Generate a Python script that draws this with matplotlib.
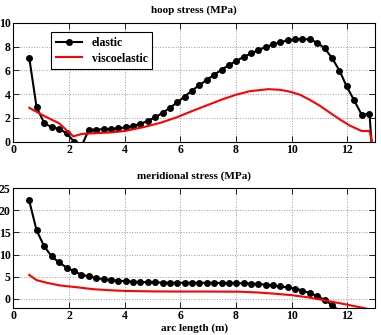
import matplotlib
matplotlib.use('Agg')
import matplotlib.pyplot as plt

# datos leidos de la figura
# tension circunferencial (hoop), caso elastico
hoop_el_x = [0.57, 0.83, 1.10, 1.37, 1.64, 1.91, 2.18, 2.44, 2.71, 2.97, 3.24, 3.50,
             3.77, 4.03, 4.30, 4.56, 4.83, 5.09, 5.36, 5.62, 5.89, 6.15, 6.42, 6.68,
             6.95, 7.21, 7.48, 7.74, 8.01, 8.27, 8.54, 8.80, 9.07, 9.33, 9.60, 9.86,
             10.13, 10.39, 10.66, 10.92, 11.19, 11.45, 11.72, 11.98, 12.25, 12.52,
             12.80, 12.90]
hoop_el_y = [7.0, 2.9, 1.6, 1.2, 1.1, 0.7, 0.0, -0.4, 1.0, 1.02, 1.05, 1.08,
             1.12, 1.2, 1.32, 1.5, 1.75, 2.05, 2.42, 2.85, 3.3, 3.8, 4.3, 4.75,
             5.2, 5.62, 6.05, 6.43, 6.8, 7.12, 7.42, 7.7, 7.97, 8.18, 8.37, 8.52,
             8.6, 8.63, 8.6, 8.33, 7.85, 7.05, 5.98, 4.65, 3.47, 2.26,
             2.35, -1.0]

# tension circunferencial, caso viscoelastico
hoop_ve_x = [0.57, 1.07, 1.64, 2.15, 2.45, 2.81, 3.5, 4.0, 4.67, 5.3, 5.87, 6.5,
             7.0, 7.5, 8.0, 8.5, 9.17, 9.6, 9.95, 10.3, 10.67, 11.03, 11.4, 11.75,
             12.1, 12.52, 12.8, 12.95]
hoop_ve_y = [2.85, 2.2, 1.55, 0.45, 0.65, 0.70, 0.78, 0.9, 1.22, 1.6, 2.05, 2.65,
             3.1, 3.55, 3.95, 4.25, 4.42, 4.36, 4.2, 3.95, 3.5, 3.0, 2.4, 1.85,
             1.35, 0.9, 0.9, -0.5]

# tension meridional, caso elastico
mer_el_x = [0.56, 0.83, 1.10, 1.37, 1.64, 1.91, 2.18, 2.44, 2.71, 2.97, 3.24, 3.50,
            3.77, 4.03, 4.30, 4.56, 4.83, 5.09, 5.36, 5.62, 5.89, 6.15, 6.42, 6.68,
            6.95, 7.21, 7.48, 7.74, 8.01, 8.27, 8.54, 8.80, 9.07, 9.33, 9.60, 9.86,
            10.13, 10.39, 10.66, 10.92, 11.19, 11.45, 11.72]
mer_el_y = [22.3, 15.5, 11.9, 9.6, 8.2, 7.05, 6.2, 5.45, 5.05, 4.7, 4.4, 4.22,
            4.08, 3.95, 3.85, 3.78, 3.72, 3.68, 3.65, 3.62, 3.6, 3.6, 3.6, 3.6,
            3.6, 3.58, 3.56, 3.55, 3.52, 3.48, 3.42, 3.32, 3.18, 3.0, 2.78, 2.55,
            2.3, 1.85, 1.25, 0.6, -0.3, -1.4, -2.8]

# tension meridional, caso viscoelastico
mer_ve_x = [0.56, 0.83, 1.2, 1.67, 2.27, 2.87, 3.5, 4.07, 5.0, 6.0, 7.0, 8.15,
            8.8, 9.35, 10.0, 10.55, 11.0, 11.5, 12.0, 12.58, 12.9]
mer_ve_y = [5.4, 4.2, 3.6, 3.0, 2.6, 2.15, 1.9, 1.75, 1.65, 1.62, 1.62, 1.58,
            1.4, 1.15, 0.8, 0.35, -0.15, -0.75, -1.35, -2.1, -2.6]

plt.rcParams['font.family'] = 'Liberation Serif'
plt.rcParams['font.weight'] = 'bold'
plt.rcParams['font.size'] = 8

fig = plt.figure(figsize=(3.81, 3.35), dpi=100)
ax1 = fig.add_axes([0.0354, 0.577, 0.949, 0.355])
ax2 = fig.add_axes([0.0354, 0.082, 0.949, 0.356])


def estilo(ax, yticks, ylim):
    ax.set_xlim(0, 13)
    ax.set_ylim(*ylim)
    ax.set_xticks(range(0, 13, 2))
    ax.set_yticks(yticks)
    ax.grid(True, linestyle=':', color='0.6', linewidth=0.7)
    ax.tick_params(direction='in', top=True, right=True, length=4, width=0.6,
                   labelsize=8.5, pad=2)
    for s in ax.spines.values():
        s.set_linewidth(0.8)
    for lab in ax.get_xticklabels() + ax.get_yticklabels():
        lab.set_fontweight('bold')


# Grafico de tension circunferencial
ax1.plot(hoop_el_x, hoop_el_y, color='black', marker='o', markersize=4,
         linewidth=1.5, label='elastic')
ax1.plot(hoop_ve_x, hoop_ve_y, color='red', linewidth=1.5, label='viscoelastic')
estilo(ax1, [0, 2, 4, 6, 8, 10], (0, 10))
ax1.set_title('hoop stress (MPa)', fontsize=8, fontweight='bold', pad=7)
leg = ax1.legend(loc='upper left', bbox_to_anchor=(0.105, 0.92), borderaxespad=0,
                 fancybox=False, edgecolor='black', framealpha=1,
                 prop={'weight': 'bold', 'size': 8.5}, handlelength=2.2,
                 borderpad=0.4, labelspacing=0.3)
leg.get_frame().set_linewidth(0.8)

# Grafico de tension meridional
ax2.plot(mer_el_x, mer_el_y, color='black', marker='o', markersize=4,
         linewidth=1.5)
ax2.plot(mer_ve_x, mer_ve_y, color='red', linewidth=1.5)
estilo(ax2, [0, 5, 10, 15, 20, 25], (-2, 25))
ax2.set_title('meridional stress (MPa)', fontsize=8, fontweight='bold', pad=7)
ax2.set_xlabel('arc length (m)', fontsize=8, fontweight='bold', labelpad=1)

fig.savefig('out.png', dpi=100)
